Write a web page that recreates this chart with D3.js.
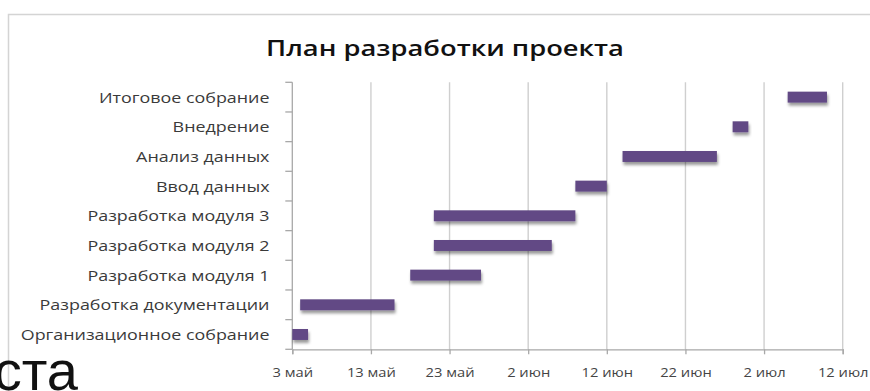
<!DOCTYPE html>
<html><head><meta charset="utf-8">
<script src="https://cdn.jsdelivr.net/npm/d3@7"></script>
<style>body{margin:0;background:#fff;} svg{display:block}</style>
</head><body><svg id="c" width="870" height="391"></svg>
<script>
const titleText = "План разработки проекта";
const tasks = ["Итоговое собрание","Внедрение","Анализ данных","Ввод данных","Разработка модуля 3","Разработка модуля 2","Разработка модуля 1","Разработка документации","Организационное собрание"];
const startDates = ["2011-07-05","2011-06-28","2011-06-14","2011-06-08","2011-05-21","2011-05-21","2011-05-18","2011-05-04","2011-05-03"];
const durations = [5,2,12,4,18,15,9,12,2];
const tickDates = ["2011-05-03","2011-05-13","2011-05-23","2011-06-02","2011-06-12","2011-06-22","2011-07-02","2011-07-12"];
const tickLabels = ["3 май","13 май","23 май","2 июн","12 июн","22 июн","2 июл","12 июл"];
const fragmentText = "ста";

const parse = d3.utcParse("%Y-%m-%d");
const svg = d3.select("#c");
const L = 292.3, R = 842.7, T = 82.3, B = 349.3;

const x = d3.scaleUtc().domain([parse(tickDates[0]), parse(tickDates[tickDates.length-1])]).range([L, R]);
const y = d3.scaleBand().domain(tasks).range([T, B]).paddingInner(0.63).paddingOuter(0.315);

const defs = svg.append("defs");
const f = defs.append("filter").attr("id","sh").attr("x","-20%").attr("y","-50%").attr("width","140%").attr("height","250%");
f.append("feDropShadow").attr("dx",1).attr("dy",3).attr("stdDeviation",1.6).attr("flood-color","#000").attr("flood-opacity",0.4);

// frame
svg.append("rect").attr("x",8.5).attr("y",14.5).attr("width",880).attr("height",400)
  .attr("fill","#fff").attr("stroke","#d4d4d4").attr("stroke-width",1.5);

// title
const title = svg.append("text").attr("x",445).attr("y",56).attr("text-anchor","middle")
  .attr("font-family","Open Sans").attr("font-weight",600).attr("font-size",22).attr("fill","#111")
  .text(titleText);
(function(){const w=title.node().getComputedTextLength(); const sx=358/w;
  title.attr("transform",`translate(445,0) scale(${sx},1) translate(-445,0)`);})();

// gridlines
const grid = svg.append("g");
tickDates.slice(1).forEach(d=>{
  grid.append("line").attr("x1",x(parse(d))).attr("x2",x(parse(d))).attr("y1",T).attr("y2",B)
    .attr("stroke","#cfcfcf").attr("stroke-width",1.4);
});

// x axis
const xAxis = d3.axisBottom(x).tickValues(tickDates.map(parse)).tickSize(5).tickFormat((d,i)=>tickLabels[i]);
const gx = svg.append("g").attr("transform",`translate(0,${B})`).call(xAxis);
gx.select(".domain").attr("stroke","#a8a8a8").attr("stroke-width",1.3);
gx.selectAll(".tick line").attr("stroke","#a8a8a8").attr("stroke-width",1.3);
gx.selectAll(".tick text").attr("font-family","Open Sans").attr("font-size",13.5).attr("fill","#444")
  .attr("dy",0).attr("y",28);

// y axis
const yAxis = d3.axisLeft(y).tickSize(0).tickFormat("");
const gy = svg.append("g").attr("transform",`translate(${L},0)`).call(yAxis);
gy.select(".domain").remove();
svg.append("line").attr("x1",L).attr("x2",L).attr("y1",T).attr("y2",B).attr("stroke","#a8a8a8").attr("stroke-width",1.3);
const step = y.step();
d3.range(tasks.length+1).forEach(i=>{
  const yy = T + i*step;
  svg.append("line").attr("x1",L-7).attr("x2",L).attr("y1",yy).attr("y2",yy).attr("stroke","#a8a8a8").attr("stroke-width",1.3);
});

// y labels
const labels = svg.append("g").selectAll("text").data(tasks).join("text")
  .attr("font-family","Open Sans").attr("font-size",15).attr("fill","#3a3a3a")
  .attr("text-anchor","end").text(d=>d);
let maxW = 0; labels.each(function(){maxW=Math.max(maxW,this.getComputedTextLength());});
const lsx = 249/maxW;
labels.attr("transform",d=>`translate(269.5,${y(d)+y.bandwidth()/2+5.5}) scale(${lsx},1)`);

// tick labels horizontal scaling
let tw=0; gx.selectAll(".tick text").each(function(d,i){ if(i===0) tw=this.getComputedTextLength(); });
const tsx = 40.6/tw;
gx.selectAll(".tick text").attr("transform",`scale(${tsx},1)`).attr("x",0);

// bars
svg.append("g").selectAll("rect").data(tasks).join("rect")
  .attr("x",(d,i)=>x(parse(startDates[i])))
  .attr("width",(d,i)=>x(d3.utcDay.offset(parse(startDates[i]),durations[i])) - x(parse(startDates[i])))
  .attr("y",d=>y(d))
  .attr("height",y.bandwidth())
  .attr("fill","#624a85")
  .attr("filter","url(#sh)");

// fragment text overlapping
svg.append("text").attr("x",78).attr("y",390).attr("text-anchor","end")
  .attr("font-family","Liberation Sans").attr("font-size",56).attr("fill","#111").text(fragmentText);
</script></body></html>
